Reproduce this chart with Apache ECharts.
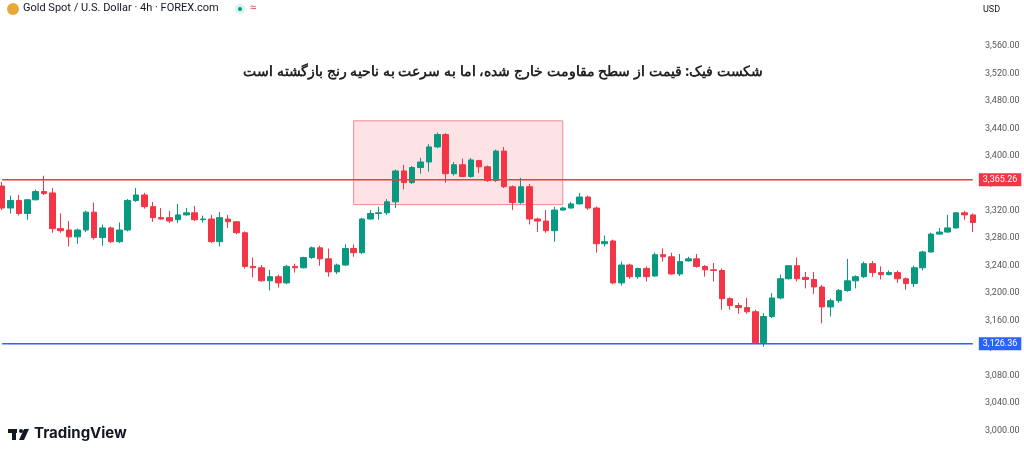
<!DOCTYPE html>
<html>
<head>
<meta charset="utf-8">
<script src="https://cdn.jsdelivr.net/npm/echarts@6/dist/echarts.min.js"></script>
<style>html,body{margin:0;padding:0;background:#fff}#chart{width:1024px;height:453px}</style>
</head>
<body>
<div id="chart"></div>
<script>
// 4h candles, [open, close, low, high]
const candles = [
  [3356,3324,3321,3362],[3324,3335,3316,3342],[3335,3316,3313,3343],[3316,3336,3307,3337],
  [3336,3348,3335,3351],[3348,3345,3343,3371],[3346,3294,3288,3353],[3294,3291,3288,3316],
  [3292,3282,3268,3305],[3282,3292,3272,3294],[3292,3318,3289,3320],[3318,3281,3278,3332],
  [3281,3295,3269,3300],[3295,3275,3273,3297],[3275,3292,3273,3303],[3292,3335,3290,3337],
  [3335,3343,3333,3353],[3343,3326,3323,3346],[3326,3310,3304,3333],[3310,3308,3307,3324],
  [3310,3305,3302,3320],[3307,3314,3302,3330],[3314,3317,3313,3324],[3317,3307,3305,3327],
  [3307,3308,3303,3313],[3308,3275,3273,3314],[3275,3310,3268,3318],[3308,3304,3295,3314],
  [3304,3288,3286,3305],[3288,3239,3236,3290],[3239,3237,3223,3252],[3237,3218,3217,3241],
  [3218,3224,3204,3234],[3224,3215,3208,3227],[3215,3239,3213,3241],[3239,3237,3230,3243],
  [3237,3252,3236,3253],[3252,3266,3250,3268],[3266,3250,3240,3269],[3250,3231,3224,3265],
  [3231,3241,3228,3243],[3241,3265,3240,3271],[3265,3259,3253,3271],[3259,3308,3257,3310],
  [3308,3316,3307,3321],[3316,3317,3307,3326],[3317,3333,3314,3337],[3333,3378,3324,3380],
  [3378,3361,3351,3387],[3361,3383,3359,3385],[3383,3391,3374,3397],[3391,3413,3377,3417],
  [3413,3431,3411,3434],[3431,3374,3361,3433],[3374,3387,3371,3391],[3387,3370,3369,3396],
  [3370,3394,3368,3397],[3393,3384,3375,3394],[3384,3364,3362,3386],[3364,3407,3362,3409],
  [3407,3355,3353,3413],[3355,3332,3321,3357],[3332,3355,3330,3368],[3355,3308,3300,3359],
  [3308,3305,3289,3310],[3305,3291,3288,3321],[3291,3321,3275,3326],[3321,3324,3320,3326],
  [3324,3330,3323,3333],[3330,3340,3329,3346],[3340,3324,3321,3342],[3324,3272,3259,3326],
  [3272,3275,3268,3284],[3276,3215,3213,3278],[3215,3241,3211,3246],[3241,3224,3221,3243],
  [3224,3236,3221,3237],[3236,3224,3217,3239],[3225,3256,3224,3259],[3256,3253,3246,3265],
  [3253,3228,3227,3259],[3228,3246,3225,3257],[3247,3250,3246,3253],[3250,3239,3237,3257],
  [3239,3234,3224,3241],[3234,3233,3217,3244],[3233,3192,3176,3236],[3192,3182,3176,3194],
  [3182,3179,3170,3186],[3179,3173,3170,3193],[3173,3128,3126,3176],[3128,3166,3122,3171],
  [3166,3193,3164,3200],[3193,3221,3191,3227],[3221,3240,3220,3241],[3240,3221,3217,3252],
  [3223,3220,3207,3231],[3220,3209,3199,3231],[3209,3180,3156,3212],[3180,3189,3166,3192],
  [3189,3204,3186,3206],[3204,3218,3202,3250],[3218,3224,3207,3226],[3224,3243,3222,3246],
  [3243,3230,3224,3247],[3230,3227,3220,3239],[3227,3230,3226,3233],[3230,3221,3215,3233],
  [3221,3214,3205,3223],[3214,3237,3209,3240],[3237,3260,3233,3262],[3260,3286,3259,3288],
  [3286,3289,3285,3295],[3289,3295,3288,3314],[3295,3317,3294,3318],[3317,3314,3307,3320],
  [3314,3303,3289,3316]
];
const categories = candles.map((c, i) => 'c' + i);
const resistance = 3365.26;
const support = 3126.36;
const fakeZone = {from: 42, to: 67, low: 3329, high: 3451};
const title = 'شکست فیک: قیمت از سطح مقاومت خارج شده، اما به سرعت به ناحیه رنج بازگشته است';

const chart = echarts.init(document.getElementById('chart'));
const fmt = v => v.toLocaleString('en-US', {minimumFractionDigits: 2, maximumFractionDigits: 2});

function levelLine(value, color) {
  return {
    type: 'line', silent: true, symbol: 'none', z: 3,
    data: [[categories[0], value], [categories[categories.length - 1], value]],
    lineStyle: {color: color, width: 1.4},
    itemStyle: {color: color},
    endLabel: {show: true, formatter: fmt(value), color: '#fff', backgroundColor: color, padding: [2, 4], fontSize: 9, distance: 6, fontFamily: 'Roboto'}
  };
}

chart.setOption({
  animation: false,
  grid: {left: -2, right: 47, top: -9, bottom: -5, outerBoundsMode: 'none', containLabel: false},
  xAxis: {
    type: 'category', data: categories,
    axisLine: {show: false}, axisTick: {show: false}, axisLabel: {show: false}, splitLine: {show: false}
  },
  yAxis: {
    type: 'value', position: 'right', min: 2960, max: 3640, interval: 40, scale: true,
    axisLine: {show: false}, axisTick: {show: false}, splitLine: {show: false},
    axisLabel: {color: '#555', fontSize: 9, fontFamily: 'Roboto', margin: 8, formatter: fmt}
  },
  graphic: [
    {type: 'circle', shape: {cx: 13, cy: 9, r: 6}, style: {fill: '#e8a93a'}},
    {type: 'text', left: 23, top: 3, style: {text: 'Gold Spot / U.S. Dollar · 4h · FOREX.com', fontSize: 11, fontFamily: 'Roboto', fill: '#131722'}},
    {type: 'circle', shape: {cx: 240, cy: 9, r: 5}, style: {fill: '#d6f2ec'}},
    {type: 'circle', shape: {cx: 240, cy: 9, r: 2}, style: {fill: '#089981'}},
    {type: 'text', left: 250, top: 2, style: {text: '≈', fontSize: 11, fill: '#f23645'}},
    {type: 'rect', z: 100, shape: {x: 978, y: 0, width: 46, height: 24}, style: {fill: '#fff'}},
    {type: 'text', z: 101, left: 983, top: 5, style: {text: 'USD', fontSize: 9, fontFamily: 'Roboto', fill: '#131722'}},
    {type: 'text', x: 503, y: 72, style: {text: title, fontSize: 14, fontWeight: 'bold', fontFamily: 'Noto Sans', fill: '#222', align: 'center', verticalAlign: 'middle'}},
    // TradingView logo mark
    {type: 'rect', shape: {x: 8, y: 429, width: 9, height: 4}, style: {fill: '#131722'}},
    {type: 'rect', shape: {x: 12, y: 429, width: 4, height: 11}, style: {fill: '#131722'}},
    {type: 'circle', shape: {cx: 21, cy: 431, r: 2}, style: {fill: '#131722'}},
    {type: 'polygon', shape: {points: [[24, 429], [29, 429], [24, 440], [19, 440]]}, style: {fill: '#131722'}},
    {type: 'text', left: 34, top: 426, style: {text: 'TradingView', fontSize: 15, fontWeight: 'bold', fontFamily: 'Inter', fill: '#131722'}}
  ],
  series: [{
    type: 'candlestick',
    data: candles,
    barWidth: '72%',
    itemStyle: {color: '#089981', color0: '#f23645', borderColor: '#089981', borderColor0: '#f23645', borderWidth: 1},
    markArea: {
      silent: true,
      itemStyle: {color: 'rgba(242,54,69,0.14)', borderColor: '#f08a90', borderWidth: 1},
      data: [[
        {xAxis: categories[fakeZone.from], yAxis: fakeZone.high},
        {xAxis: categories[fakeZone.to], yAxis: fakeZone.low}
      ]]
    }
  },
  levelLine(resistance, '#f23645'),
  levelLine(support, '#2962ff')]
});
</script>
</body>
</html>
